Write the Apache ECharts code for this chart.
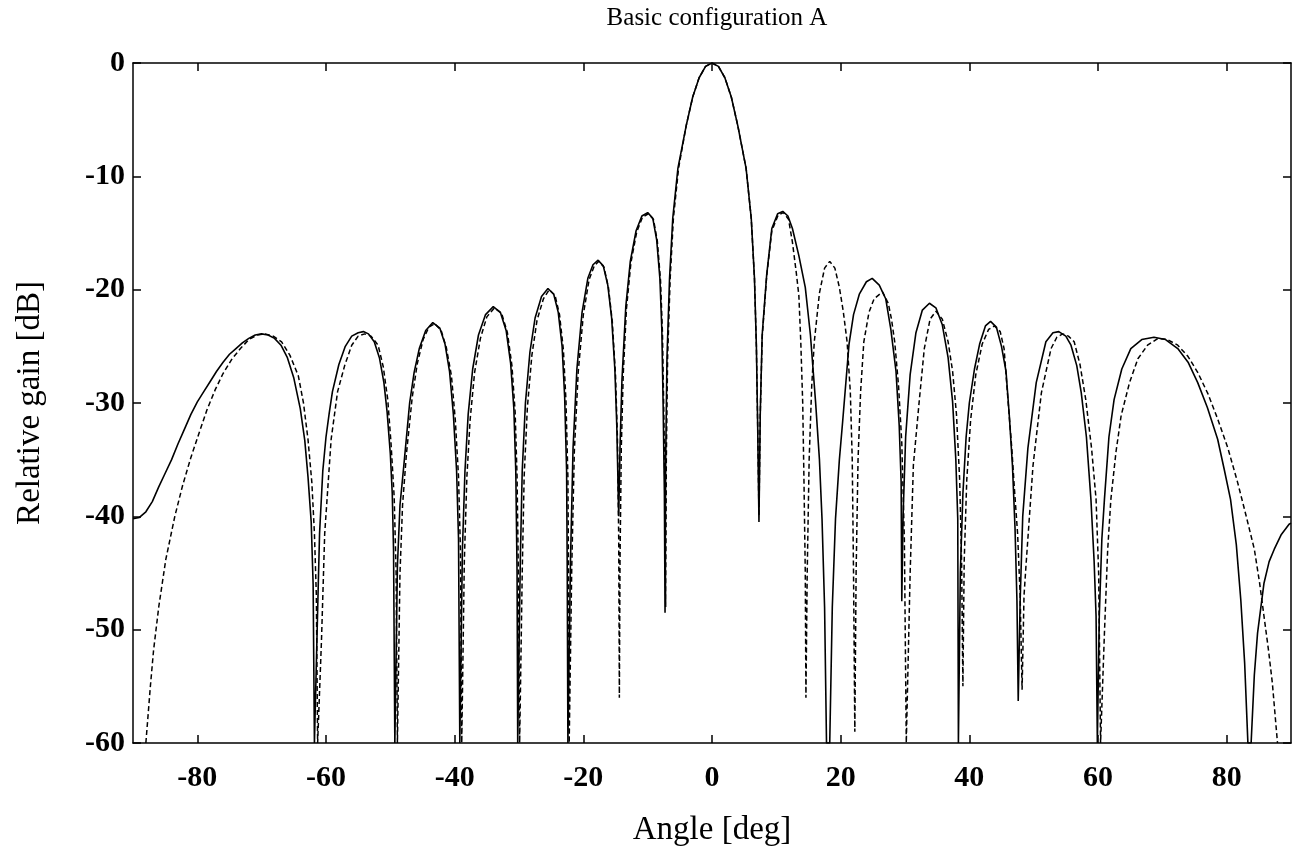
<!DOCTYPE html>
<html>
<head>
<meta charset="utf-8">
<script src="https://cdn.jsdelivr.net/npm/echarts@6/dist/echarts.min.js"></script>
<style>
html,body{margin:0;padding:0;background:#fff;}
#chart{width:1299px;height:854px;}
</style>
</head>
<body>
<div id="chart"></div>
<script>
const chartTitle = 'Basic configuration A';
const xName = 'Angle [deg]';
const yName = 'Relative gain [dB]';
const xTicks = [-80, -60, -40, -20, 0, 20, 40, 60, 80];
const yTicks = [-60, -50, -40, -30, -20, -10, 0];

// [angle deg, relative gain dB] — solid curve
const solidPattern = [
[-90,-40.2],[-89,-40.1],[-88,-39.6],[-87,-38.7],[-86,-37.4],[-85,-36.2],[-84,-35.0],[-83,-33.6],[-82,-32.3],[-81,-31.0],[-80,-29.9],[-79,-29.0],[-78,-28.1],[-77,-27.2],[-76,-26.4],[-75,-25.7],[-74,-25.2],[-73,-24.7],[-72,-24.3],[-71,-24.0],[-70,-23.9],[-69,-24.0],[-68,-24.3],[-67,-24.9],[-66,-26.0],[-65,-27.8],[-64,-30.5],[-63.3,-33.3],[-62.8,-36.5],[-62.3,-40.5],[-62.0,-46],[-61.8,-60],
[-61.5,-60],[-61.2,-46],[-61.0,-41.5],[-60.5,-36.0],[-60,-33.0],[-59.5,-30.9],[-59,-29.0],[-58,-26.6],[-57,-25.0],[-56,-24.1],[-55,-23.8],[-54.2,-23.7],[-53.4,-23.9],[-52.5,-24.6],[-51.7,-26.0],[-51,-28.2],[-50.5,-30.8],[-50,-34.5],[-49.7,-38.0],[-49.5,-43],[-49.3,-60],
[-49.1,-60],[-48.9,-44.4],[-48.5,-39],[-47.9,-35.5],[-47,-30],[-46.3,-27.3],[-45.5,-25.2],[-44.5,-23.6],[-43.4,-22.9],[-42.3,-23.4],[-41.5,-24.8],[-40.8,-27.2],[-40.2,-31],[-39.7,-36],[-39.4,-42],[-39.2,-60],
[-39.0,-60],[-38.8,-43],[-38.4,-36],[-37.9,-31],[-37.2,-27],[-36.3,-24],[-35.2,-22.2],[-34.0,-21.5],[-32.9,-22.0],[-32,-23.6],[-31.3,-26.5],[-30.8,-30.5],[-30.5,-36],[-30.3,-45],[-30.2,-60],
[-30.0,-60],[-29.8,-44],[-29.5,-36],[-29,-30],[-28.3,-25.5],[-27.5,-22.5],[-26.5,-20.6],[-25.5,-19.9],[-24.6,-20.4],[-23.9,-22],[-23.3,-25],[-22.9,-29.5],[-22.6,-36],[-22.5,-45],[-22.4,-60],
[-22.2,-60],[-22.0,-44],[-21.6,-34],[-21.0,-27],[-20.2,-22],[-19.3,-19],[-18.5,-17.8],[-17.7,-17.4],[-16.9,-17.9],[-16.2,-19.6],[-15.6,-22.5],[-15.1,-27],[-14.8,-32],[-14.5,-40],
[-14.3,-34],[-14.0,-28],[-13.4,-21.5],[-12.7,-17.5],[-11.8,-14.8],[-10.9,-13.5],[-10.0,-13.2],[-9.2,-13.7],[-8.6,-15.6],[-8.1,-19],[-7.8,-23.5],[-7.6,-30],[-7.4,-38],[-7.3,-48.5],
[-7.2,-35],[-7.0,-26],[-6.6,-19],[-6.1,-13.7],[-5.3,-9.3],[-4.0,-5.5],[-3.0,-3.0],[-2.0,-1.3],[-1,-0.3],[0,0],[1,-0.3],[2.0,-1.3],[3.0,-3.0],[4.0,-5.5],[5.3,-9.3],[6.1,-13.7],[6.6,-19],[6.9,-25],[7.1,-32],[7.3,-40.5],
[7.5,-31],[7.8,-24],[8.5,-18.7],[9.3,-14.6],[10.2,-13.3],[11.0,-13.1],[11.8,-13.5],[12.5,-14.6],[13.5,-17],[14.5,-19.8],[15.3,-24],[16.1,-29.9],[16.7,-35],[17.1,-40.2],[17.5,-48],[17.8,-60],
[18.3,-60],[18.7,-48],[19.2,-40.2],[19.8,-35],[20.3,-31.7],[21.3,-24.8],[22.0,-22.2],[22.9,-20.4],[24.0,-19.3],[24.9,-19.0],[26.0,-19.6],[27.0,-20.8],[27.8,-23.5],[28.6,-27.2],[29.1,-32],[29.4,-37],[29.5,-47.5],
[29.7,-40],[30.1,-33],[30.8,-27.5],[31.7,-23.8],[32.7,-21.8],[33.8,-21.2],[34.8,-21.6],[35.8,-23.1],[36.7,-26],[37.4,-29.9],[37.9,-35],[38.2,-40.2],[38.3,-60],
[38.5,-60],[38.6,-45],[39.0,-38],[39.5,-33],[40.0,-30],[40.8,-27],[41.6,-24.8],[42.5,-23.2],[43.3,-22.8],[44.2,-23.3],[45.0,-25.0],[45.7,-27.2],[46.2,-31],[46.7,-35.5],[47.1,-41],[47.4,-47.4],[47.6,-56.3],
[47.9,-47.4],[48.3,-40],[49.1,-34],[50.4,-28.2],[51.9,-24.6],[53.0,-23.8],[53.9,-23.7],[55,-24.1],[55.8,-24.9],[56.7,-26.7],[57.4,-29.1],[58.2,-33],[58.9,-38.5],[59.4,-44],[59.7,-48.8],[59.9,-60],
[60.1,-60],[60.2,-48.8],[60.6,-42],[61.0,-38.5],[61.7,-33],[62.5,-29.7],[63.7,-27],[65.1,-25.2],[66.8,-24.4],[68.7,-24.2],[70.5,-24.4],[72.4,-25.2],[74,-26.4],[75.5,-28.2],[77,-30.4],[78.6,-33.2],[79.6,-35.8],[80.6,-38.5],[81.5,-42.5],[82.2,-47.4],[82.8,-53],[83.3,-60],
[83.8,-60],[84.3,-54],[84.8,-50.3],[85.8,-45.9],[86.6,-44],[87.4,-42.9],[88.5,-41.6],[89.7,-40.7],[90,-40.6]
];

// [angle deg, relative gain dB] — dashed curve
const dashedPattern = [
[-88.0,-60],[-87.3,-55],[-86.8,-51.8],[-86,-48],[-84.9,-43.8],[-83.5,-40],[-82.3,-37.3],[-81,-34.8],[-79.7,-32.6],[-78.5,-30.6],[-77.2,-28.8],[-76,-27.4],[-74.6,-26.1],[-73.3,-25.2],[-72,-24.4],[-70.7,-24.0],[-69.5,-23.9],[-68.2,-24.1],[-66.9,-24.6],[-65.6,-25.8],[-64.3,-27.6],[-63.5,-30],[-62.8,-33.2],[-62.2,-37],[-61.8,-41.5],[-61.5,-47],[-61.3,-60],
[-61.0,-60],[-60.7,-50.9],[-60.2,-41.5],[-59.2,-33.2],[-58.2,-29],[-57.1,-26.7],[-56,-24.9],[-55,-24.1],[-54.0,-23.9],[-53,-24.1],[-51.9,-24.9],[-51.1,-26.8],[-50.4,-29.7],[-49.9,-33.5],[-49.4,-38.3],[-49.1,-45],[-48.9,-60],
[-48.7,-60],[-48.5,-45],[-48.1,-39],[-47.5,-34.5],[-46.6,-29.5],[-45.8,-26.5],[-44.9,-24.4],[-44.0,-23.3],[-43.1,-23.0],[-42.1,-23.6],[-41.3,-25.1],[-40.5,-27.6],[-39.9,-31.5],[-39.4,-36.5],[-39.1,-43],[-38.9,-60],
[-38.7,-60],[-38.5,-44],[-38.1,-36.5],[-37.6,-31.5],[-36.9,-27.3],[-36.0,-24.3],[-35.0,-22.4],[-33.8,-21.6],[-32.7,-22.1],[-31.8,-23.8],[-31.1,-26.7],[-30.6,-30.8],[-30.3,-36.5],[-30.1,-45],[-29.9,-60],
[-29.7,-60],[-29.5,-45],[-29.2,-36.5],[-28.7,-30.4],[-28.0,-25.8],[-27.2,-22.7],[-26.2,-20.8],[-25.3,-20.0],[-24.4,-20.5],[-23.7,-22.2],[-23.1,-25.3],[-22.7,-29.8],[-22.4,-36.5],[-22.3,-45],[-22.2,-60],
[-22.0,-60],[-21.8,-44.5],[-21.4,-34.3],[-20.8,-27.3],[-20.0,-22.2],[-19.1,-19.1],[-18.3,-17.9],[-17.6,-17.5],[-16.8,-18.0],[-16.1,-19.8],[-15.5,-22.8],[-15.0,-27.5],[-14.7,-33],[-14.5,-42],[-14.4,-56],
[-14.3,-44],[-14.1,-34],[-13.8,-27.5],[-13.3,-21.7],[-12.6,-17.6],[-11.7,-14.9],[-10.8,-13.6],[-9.9,-13.3],[-9.1,-13.8],[-8.5,-15.7],[-8.0,-19.2],[-7.7,-23.8],[-7.5,-30.5],[-7.3,-38.5],[-7.2,-48],
[-7.1,-35],[-6.9,-26],[-6.5,-19],[-6.0,-13.7],[-5.2,-9.3],[-4.0,-5.5],[-3,-3],[-2,-1.3],[-1,-0.3],[0,0],[1,-0.3],[2,-1.3],[3,-3],[4,-5.5],[5.3,-9.3],[6.1,-13.7],[6.6,-19],[6.9,-25],[7.1,-32],[7.3,-40],
[7.5,-31],[7.8,-24.2],[8.5,-18.8],[9.3,-14.8],[10.3,-13.4],[11.1,-13.2],[11.9,-13.8],[12.5,-15.8],[13.1,-18.5],[13.5,-20.5],[13.8,-24.6],[14.1,-30],[14.3,-37],[14.5,-45],[14.6,-56],
[14.8,-45],[15.1,-35],[15.5,-28.5],[15.9,-24.6],[16.7,-20.3],[17.5,-18.1],[18.3,-17.5],[19.1,-18.1],[19.8,-19.8],[20.4,-21.9],[21.0,-24.6],[21.5,-29],[21.8,-35],[22.0,-45],[22.2,-59],
[22.4,-45],[22.7,-35],[23.1,-29],[23.6,-24.6],[24.4,-22.0],[25.2,-20.8],[26.5,-20.2],[27.4,-21.2],[27.9,-22.6],[28.4,-24.6],[29.0,-28.5],[29.5,-33.5],[29.9,-42],[30.2,-60],
[30.5,-60],[30.8,-45],[31.3,-35.5],[32.2,-29.9],[33.0,-25.2],[33.9,-22.6],[34.8,-21.9],[35.8,-22.6],[36.7,-24.6],[37.4,-27.2],[38.0,-31],[38.5,-36.8],[38.8,-44],[39.0,-55],
[39.2,-44],[39.6,-36.8],[40.2,-31.5],[41.0,-27.5],[42.0,-24.8],[43.0,-23.5],[43.9,-23.2],[44.8,-23.7],[45.4,-25.2],[46.0,-29.7],[46.6,-34],[47.0,-37.5],[47.5,-41.5],[47.9,-47],[48.2,-55.3],
[48.5,-47],[48.8,-44.4],[49.9,-35.5],[51.2,-29.1],[52.7,-25.2],[53.6,-24.2],[54.5,-23.9],[55.4,-24.1],[56.3,-24.6],[57.2,-26.6],[58.1,-29.7],[59.0,-34],[59.7,-38.5],[60.1,-45],[60.4,-60],
[60.7,-60],[61.0,-50.3],[61.5,-43],[62.0,-38.5],[62.8,-34.3],[63.6,-31.1],[64.9,-28.2],[66.2,-26.1],[67.7,-24.9],[69.3,-24.3],[70.8,-24.4],[72.4,-24.9],[74.0,-25.9],[75.5,-27.3],[77.1,-29.2],[78.6,-31.4],[80.2,-34.0],[81.7,-37.0],[83.0,-39.9],[84.3,-42.9],[85.1,-45.8],[85.8,-48.8],[86.5,-51.8],[87.1,-54.7],[87.9,-60]
];

const serif = '"Liberation Serif", "DejaVu Serif", serif';
const chart = echarts.init(document.getElementById('chart'), null, {renderer: 'canvas'});

const axisLineStyle = {color: '#000', width: 1.5};
const tickLabelStyle = {color: '#000', fontFamily: serif, fontSize: 30, fontWeight: 'bold'};

chart.setOption({
  backgroundColor: '#fff',
  animation: false,
  title: {
    text: chartTitle,
    left: 712, top: 1, textAlign: 'center',
    textStyle: {color: '#000', fontFamily: serif, fontSize: 25, fontWeight: 'normal'}
  },
  grid: {left: 133, right: 8, top: 63, bottom: 111, containLabel: false, outerBoundsMode: 'none'},
  xAxis: [
    {
      type: 'value', min: -90, max: 90, position: 'bottom',
      name: xName, nameLocation: 'middle', nameGap: 87, nameMoveOverlap: false,
      nameTextStyle: {color: '#000', fontFamily: serif, fontSize: 33, verticalAlign: 'middle'},
      axisLine: {show: true, onZero: false, lineStyle: axisLineStyle},
      axisTick: {show: true, inside: true, length: 8, customValues: xTicks, lineStyle: axisLineStyle},
      axisLabel: Object.assign({show: true, margin: 20, customValues: xTicks, formatter: v => String(v)}, tickLabelStyle),
      splitLine: {show: false}
    },
    {
      type: 'value', min: -90, max: 90, position: 'top',
      axisLine: {show: true, onZero: false, lineStyle: axisLineStyle},
      axisTick: {show: true, inside: true, length: 8, customValues: xTicks, lineStyle: axisLineStyle},
      axisLabel: {show: false},
      splitLine: {show: false}
    }
  ],
  yAxis: [
    {
      type: 'value', min: -60, max: 0, interval: 10, position: 'left',
      name: yName, nameLocation: 'middle', nameGap: 103, nameRotate: 90, nameMoveOverlap: false,
      nameTextStyle: {color: '#000', fontFamily: serif, fontSize: 33, verticalAlign: 'middle'},
      axisLine: {show: true, onZero: false, lineStyle: axisLineStyle},
      axisTick: {show: true, inside: true, length: 8, lineStyle: axisLineStyle},
      axisLabel: Object.assign({show: true, margin: 8, customValues: yTicks}, tickLabelStyle),
      splitLine: {show: false}
    },
    {
      type: 'value', min: -60, max: 0, interval: 10, position: 'right',
      axisLine: {show: true, onZero: false, lineStyle: axisLineStyle},
      axisTick: {show: true, inside: true, length: 8, lineStyle: axisLineStyle},
      axisLabel: {show: false},
      splitLine: {show: false}
    }
  ],
  series: [
    {
      name: 'solid', type: 'line', xAxisIndex: 0, yAxisIndex: 0,
      data: solidPattern, showSymbol: false, smooth: false,
      lineStyle: {color: '#000', width: 1.6, type: 'solid'}
    },
    {
      name: 'dashed', type: 'line', xAxisIndex: 0, yAxisIndex: 0,
      data: dashedPattern, showSymbol: false, smooth: false,
      lineStyle: {color: '#000', width: 1.5, type: [5, 3]}
    }
  ]
});
</script>
</body>
</html>
